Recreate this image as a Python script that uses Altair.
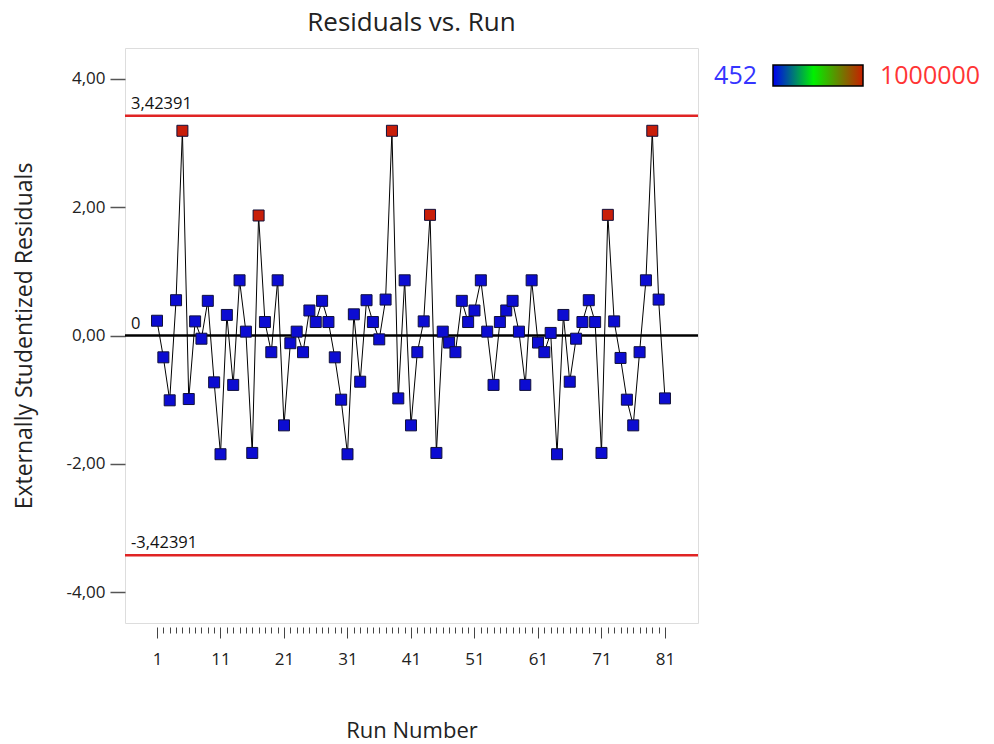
import altair as alt
import pandas as pd

# Run order and externally studentized residuals
runs = list(range(1, 82))
residuals = [
    0.23, -0.34, -1.01, 0.55, 3.19, -0.99, 0.22, -0.05, 0.54, -0.73,
    -1.85, 0.32, -0.77, 0.86, 0.06, -1.83, 1.87, 0.21, -0.26, 0.86,
    -1.40, -0.12, 0.06, -0.26, 0.39, 0.21, 0.54, 0.21, -0.34, -1.00,
    -1.85, 0.33, -0.72, 0.55, 0.21, -0.06, 0.56, 3.19, -0.98, 0.86,
    -1.40, -0.26, 0.22, 1.88, -1.83, 0.06, -0.11, -0.26, 0.54, 0.21,
    0.39, 0.86, 0.06, -0.77, 0.21, 0.39, 0.54, 0.06, -0.77, 0.86,
    -0.11, -0.26, 0.04, -1.85, 0.32, -0.72, -0.05, 0.21, 0.55, 0.21,
    -1.83, 1.88, 0.22, -0.35, -1.00, -1.40, -0.26, 0.86, 3.19, 0.56,
    -0.98,
]
# Response value used to colour each point
response = [
    452, 452, 452, 452, 1000000, 452, 452, 452, 452, 452,
    452, 452, 452, 452, 452, 452, 1000000, 452, 452, 452,
    452, 452, 452, 452, 452, 452, 452, 452, 452, 452,
    452, 452, 452, 452, 452, 452, 452, 1000000, 452, 452,
    452, 452, 452, 1000000, 452, 452, 452, 452, 452, 452,
    452, 452, 452, 452, 452, 452, 452, 452, 452, 452,
    452, 452, 452, 452, 452, 452, 452, 452, 452, 452,
    452, 1000000, 452, 452, 452, 452, 452, 452, 1000000, 452,
    452,
]

# Control limits and the zero reference
limit_values = [3.42391, 0.0, -3.42391]
limit_labels = ["3,42391", "0", "-3,42391"]
limit_colors = ["#e02424", "#000000", "#e02424"]

# Colour scale ends
color_min, color_max = 452, 1000000
color_range = ["#0c0cd2", "#00e600", "#c81e0a"]

FONT = "Open Sans"
W, H = 573, 575

df = pd.DataFrame({"run": runs, "resid": residuals, "resp": response})
limits = pd.DataFrame({"v": limit_values, "label": limit_labels, "c": limit_colors})

x_scale = alt.Scale(domain=[-4.04, 86.2], nice=False, zero=False)
y_scale = alt.Scale(domain=[-4.48, 4.48], nice=False, zero=False)

x_axis = alt.Axis(
    values=runs,
    tickCount=200,
    format="d",
    labelExpr="(datum.value - 1) % 10 == 0 ? datum.label : ''",
    tickSize={"condition": {"test": "(datum.value - 1) % 10 == 0", "value": 11}, "value": 6},
    tickColor="#444444",
    tickWidth=1,
    offset=4,
    domain=False,
    grid=False,
    labelOverlap=False,
    labelPadding=13,
    labelFont=FONT,
    labelFontSize=17,
    labelColor="#222222",
    title="Run Number",
    titleFont=FONT,
    titleFontSize=22,
    titleFontWeight="normal",
    titleColor="#222222",
    titlePadding=53,
)
y_axis = alt.Axis(
    values=[-4, -2, 0, 2, 4],
    labelExpr="(datum.value < 0 ? '-' : '') + replace(format(abs(datum.value), '.2f'), '.', ',')",
    tickSize=15,
    tickColor="#555555",
    tickWidth=1.5,
    domain=False,
    grid=False,
    labelPadding=5,
    labelFont=FONT,
    labelFontSize=17,
    labelColor="#222222",
    title="Externally Studentized Residuals",
    titleFont=FONT,
    titleFontSize=23,
    titleFontWeight="normal",
    titleColor="#222222",
    titlePadding=29,
)

base = alt.Chart(df)

line = base.mark_line(color="#000000", strokeWidth=1).encode(
    x=alt.X("run:Q", scale=x_scale, axis=x_axis),
    y=alt.Y("resid:Q", scale=y_scale, axis=y_axis),
)

rules = alt.Chart(limits).mark_rule(strokeWidth=2.5).encode(
    y=alt.Y("v:Q", scale=y_scale),
    color=alt.Color("c:N", scale=None),
)

rule_text = alt.Chart(limits).mark_text(
    align="left", baseline="bottom", dy=-4, font=FONT, fontSize=16.5, color="#111111"
).encode(
    x=alt.value(6),
    y=alt.Y("v:Q", scale=y_scale),
    text="label:N",
)

points = base.mark_square(size=121, stroke="#10103a", strokeWidth=1, opacity=1).encode(
    x=alt.X("run:Q", scale=x_scale),
    y=alt.Y("resid:Q", scale=y_scale),
    fill=alt.Fill(
        "resp:Q",
        scale=alt.Scale(domain=[color_min, (color_min + color_max) / 2, color_max], range=color_range),
        legend=None,
    ),
)

# Colour bar with its end values, placed right of the plot
bar_data = pd.DataFrame({"lo": [str(color_min)], "hi": [str(color_max)]})
gradient = alt.LinearGradient(
    gradient="linear",
    stops=[
        alt.GradientStop(offset=0, color="#0000f0"),
        alt.GradientStop(offset=0.45, color="#00f000"),
        alt.GradientStop(offset=1, color="#c81e00"),
    ],
    x1=0, x2=1, y1=0, y2=0,
)
color_bar = alt.Chart(bar_data).mark_rect(color=gradient, stroke="#000000", strokeWidth=1.5).encode(
    x=alt.value(648), x2=alt.value(738), y=alt.value(17), y2=alt.value(38)
)
lo_text = alt.Chart(bar_data).mark_text(
    align="right", baseline="middle", font=FONT, fontSize=25, color="#3535ff"
).encode(x=alt.value(632), y=alt.value(28), text="lo:N")
hi_text = alt.Chart(bar_data).mark_text(
    align="left", baseline="middle", font=FONT, fontSize=25, color="#ff3535"
).encode(x=alt.value(755), y=alt.value(28), text="hi:N")

chart = alt.layer(
    rules, line, points, rule_text, color_bar, lo_text, hi_text
).properties(
    width=W,
    height=H,
    title=alt.Title(
        "Residuals vs. Run", font=FONT, fontSize=26, fontWeight="normal",
        color="#222222", anchor="middle", offset=12,
    ),
    autosize=alt.AutoSizeParams(type="none"),
    padding={"left": 125, "top": 48, "right": 296, "bottom": 121},
).configure_view(
    stroke="#4a4a4a", strokeWidth=1.5
).configure(background="#ffffff")

chart.save("out.html", embed_options={"renderer": "svg", "actions": False})
